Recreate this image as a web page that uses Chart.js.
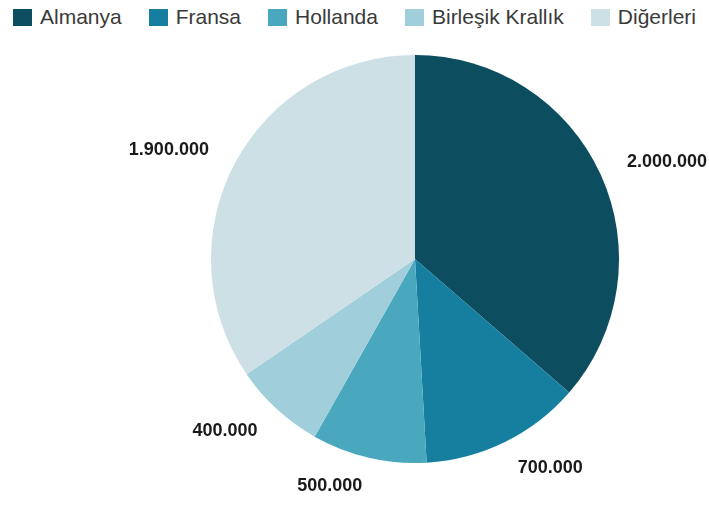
<!DOCTYPE html>
<html lang="tr">
<head>
<meta charset="utf-8">
<script src="https://cdn.jsdelivr.net/npm/chart.js@4"></script>
<style>
  html, body { margin: 0; padding: 0; background: #fff; }
  #wrap { position: relative; width: 709px; height: 507px; overflow: hidden; }
  #chartCanvas { position: absolute; left: 0; top: 0; }
  #legend {
    position: absolute; left: 0; top: 6px; width: 709px; height: 22px;
    display: flex; justify-content: center; align-items: center; gap: 27px;
    font-family: "Liberation Sans", Arial, sans-serif; font-size: 21px; color: #3a3a3a;
  }
  .item { display: flex; align-items: center; gap: 8px; white-space: nowrap; }
  .box { width: 19px; height: 17px; display: inline-block; }
</style>
</head>
<body>
<div id="wrap">
  <div id="legend"></div>
  <canvas id="chartCanvas" width="709" height="507"></canvas>
</div>
<script>
// chart data
const countries = ['Almanya', 'Fransa', 'Hollanda', 'Birleşik Krallık', 'Diğerleri'];
const visitors = [2000000, 700000, 500000, 400000, 1900000];
const sliceColors = ['#0c4d60', '#167fa0', '#4aa8be', '#a0cedb', '#cde0e6'];

// Thousands separator with dots (Turkish style)
function formatNumber(v) {
  return String(v).replace(/\B(?=(\d{3})+(?!\d))/g, '.');
}

// Build legend as html
const legendEl = document.getElementById('legend');
countries.forEach((name, i) => {
  const item = document.createElement('span');
  item.className = 'item';
  const box = document.createElement('span');
  box.className = 'box';
  box.style.background = sliceColors[i];
  const txt = document.createElement('span');
  txt.textContent = name;
  item.appendChild(box);
  item.appendChild(txt);
  legendEl.appendChild(item);
});

// Value labels: anchor on a ring just outside the pie at the slice's middle angle,
// text starts at the anchor on the right half and ends there on the left half
const outsideLabels = {
  id: 'outsideLabels',
  afterDatasetsDraw(chart) {
    const ctx = chart.ctx;
    const meta = chart.getDatasetMeta(0);
    ctx.save();
    ctx.font = 'bold 18px "Liberation Sans", Arial, sans-serif';
    ctx.fillStyle = '#1a1a1a';
    ctx.textBaseline = 'middle';
    meta.data.forEach((arc, i) => {
      const p = arc.getProps(['x', 'y', 'startAngle', 'endAngle', 'outerRadius'], true);
      const mid = (p.startAngle + p.endAngle) / 2;
      const r = p.outerRadius + 29;
      const ax = p.x + r * Math.cos(mid);
      const ay = p.y + r * Math.sin(mid);
      ctx.textAlign = Math.cos(mid) >= 0 ? 'left' : 'right';
      ctx.fillText(formatNumber(visitors[i]), ax, ay);
    });
    ctx.restore();
  }
};

const chartInstance = new Chart(document.getElementById('chartCanvas').getContext('2d'), {
  type: 'pie',
  data: {
    labels: countries,
    datasets: [{
      data: visitors,
      backgroundColor: sliceColors,
      borderWidth: 0
    }]
  },
  options: {
    responsive: false,
    animation: false,
    layout: { padding: { top: 55, bottom: 44, left: 200, right: 79 } },
    plugins: {
      legend: { display: false },
      tooltip: { enabled: false }
    }
  },
  plugins: [outsideLabels]
});
</script>
</body>
</html>
